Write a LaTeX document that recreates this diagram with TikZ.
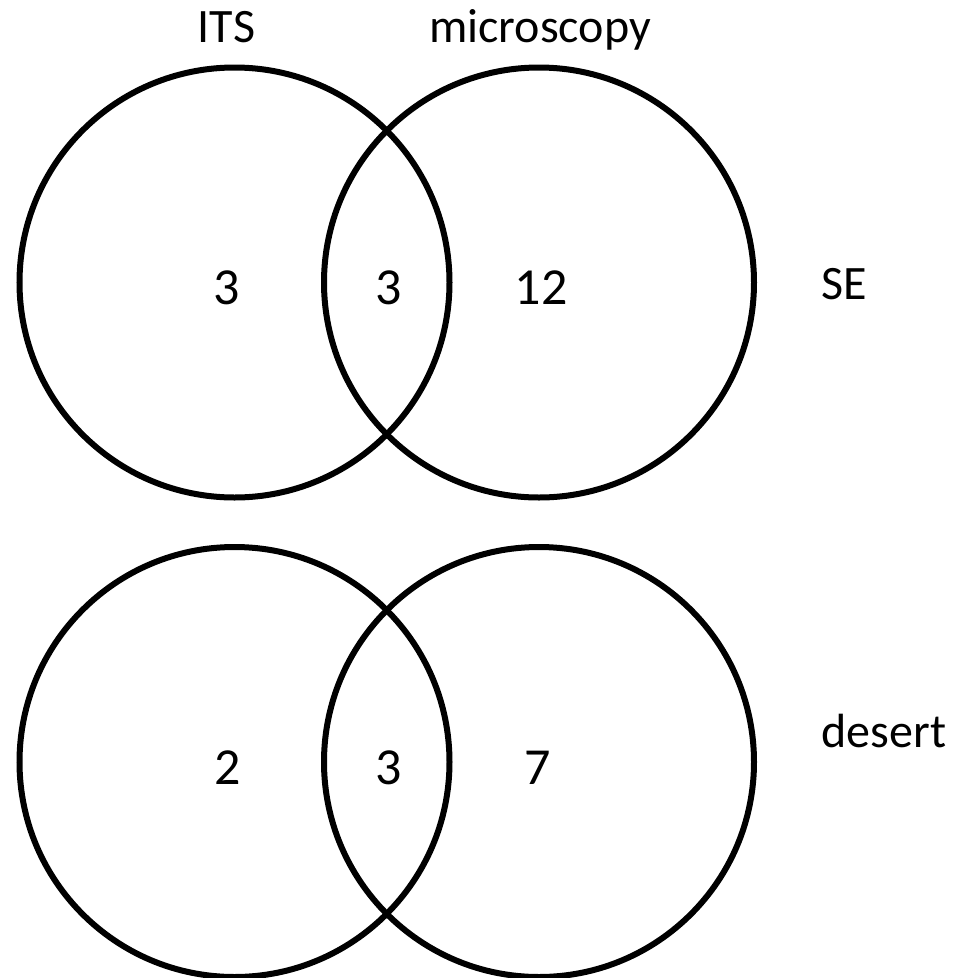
\documentclass[tikz,border=0pt]{standalone}
\usepackage{fontspec}
\setmainfont{Carlito}
\begin{document}
\begin{tikzpicture}[x=1pt,y=-1pt,
  vcircle/.style={draw=black, line width=6pt, circle, minimum size=430pt, inner sep=0pt},
  lbl/.style={anchor=base, inner sep=0pt, font=\fontsize{48}{57}\selectfont},
  num/.style={anchor=base, inner sep=0pt, font=\fontsize{52}{62}\selectfont}]
\useasboundingbox (0,0) rectangle (959,978);
% top pair
\node[vcircle] (c1) at (234.5,282.5) {};
\node[vcircle] (c2) at (539,282.5) {};
% bottom pair
\node[vcircle] (c3) at (234.5,762) {};
\node[vcircle] (c4) at (539,762) {};
% headers
\node[lbl] (its) at (226.5,42) {ITS};
\node[lbl] (micro) at (540,42) {microscopy};
\node[lbl] (se) at (844,299) {SE};
\node[lbl] (desert) at (884,747) {desert};
% counts
\node[num] (n1) at (227,304) {3};
\node[num] (n2) at (389,304) {3};
\node[num] (n3) at (541,304) {12};
\node[num] (n4) at (228,784) {2};
\node[num] (n5) at (389,784) {3};
\node[num] (n6) at (538,784) {7};
\end{tikzpicture}
\end{document}
